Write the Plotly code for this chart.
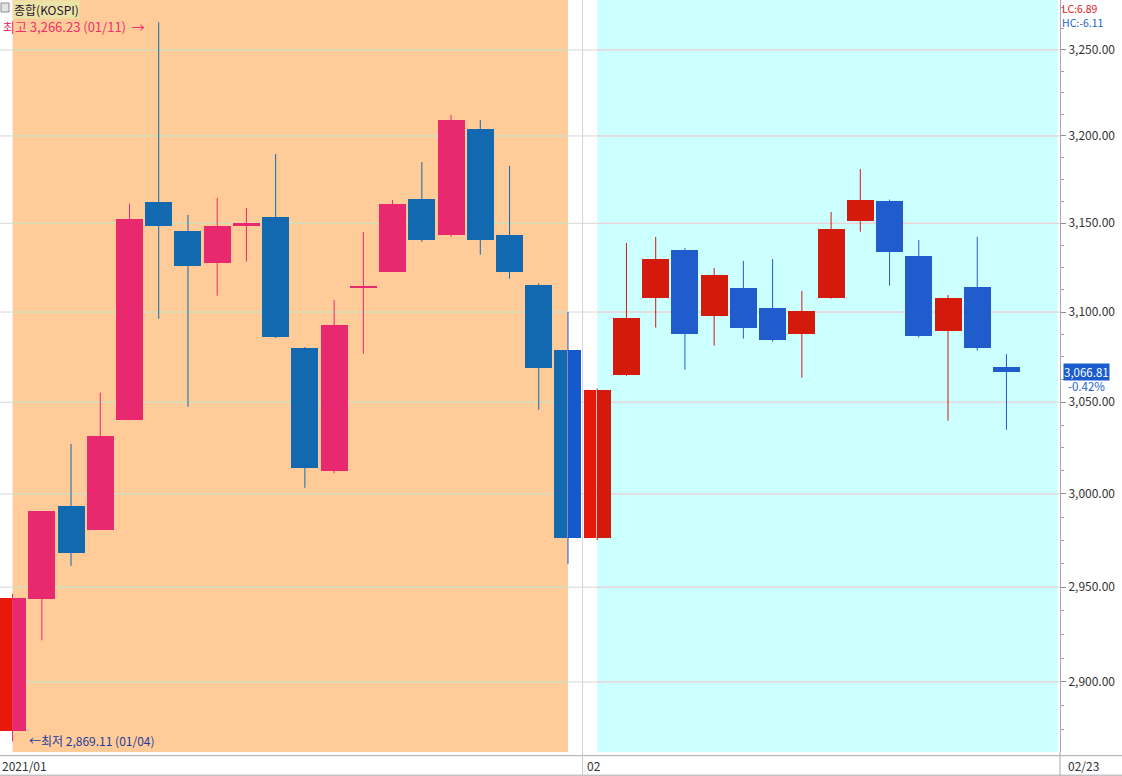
import math
import plotly.graph_objects as go

# ---------------- data ----------------
dates = ["01/04", "01/05", "01/06", "01/07", "01/08", "01/11", "01/12", "01/13", "01/14", "01/15",
         "01/18", "01/19", "01/20", "01/21", "01/22", "01/25", "01/26", "01/27", "01/28", "01/29",
         "02/01", "02/02", "02/03", "02/04", "02/05", "02/08", "02/09", "02/10", "02/15", "02/16",
         "02/17", "02/18", "02/19", "02/22", "02/23"]
open_ = [2874.50, 2943.67, 2993.34, 2980.75, 3040.11, 3161.90, 3145.79, 3127.70, 3148.40, 3153.60,
         3080.00, 3012.60, 3113.40, 3122.50, 3163.80, 3143.40, 3204.00, 3143.40, 3115.20, 3078.90,
         2976.50, 3065.20, 3108.00, 3134.90, 3098.00, 3113.50, 3102.30, 3087.90, 3108.00, 3151.30,
         3162.70, 3131.50, 3089.60, 3114.10, 3069.50]
high = [2946.54, 2990.57, 3027.16, 3055.28, 3161.11, 3266.23, 3154.79, 3164.40, 3158.70, 3189.60,
        3080.50, 3106.80, 3145.00, 3163.30, 3185.00, 3212.10, 3209.20, 3182.70, 3116.00, 3100.00,
        3057.50, 3138.90, 3142.30, 3135.90, 3124.70, 3128.70, 3129.80, 3111.80, 3156.40, 3181.00,
        3163.50, 3140.50, 3109.50, 3142.30, 3076.60]
low = [2869.11, 2921.84, 2961.37, 2980.75, 3040.11, 3096.19, 3047.56, 3109.10, 3128.30, 3085.50,
       3003.30, 3011.20, 3076.80, 3122.50, 3139.50, 3142.40, 3132.20, 3118.70, 3045.90, 2962.30,
       2975.00, 3064.50, 3091.30, 3068.00, 3081.30, 3085.20, 3083.50, 3063.50, 3107.50, 3145.20,
       3114.80, 3085.90, 3039.90, 3078.50, 3034.90]
close = [2944.45, 2990.57, 2968.21, 3031.68, 3152.18, 3148.45, 3125.95, 3148.29, 3149.93, 3085.90,
         3013.93, 3092.66, 3114.55, 3160.84, 3140.63, 3208.99, 3140.31, 3122.56, 3069.05, 2976.21,
         3056.53, 3096.81, 3129.68, 3087.55, 3120.63, 3091.24, 3084.67, 3100.58, 3147.00, 3163.25,
         3133.73, 3086.66, 3107.62, 3079.75, 3066.81]

y_ticks = [2900, 2950, 3000, 3050, 3100, 3150, 3200, 3250]
y_tick_text = ["2,900.00", "2,950.00", "3,000.00", "3,050.00", "3,100.00", "3,150.00", "3,200.00", "3,250.00"]
y_minor = [2875, 2887.5, 2912.5, 2925, 2937.5, 2962.5, 2975, 2987.5, 3012.5, 3025, 3037.5,
           3062.5, 3075, 3087.5, 3112.5, 3125, 3137.5, 3162.5, 3175, 3187.5, 3212.5, 3225,
           3237.5, 3262.5, 3275]
x_labels = ["2021/01", "02", "02/23"]

title_text = "종합(KOSPI)"
hi_label = "최고 3,266.23 (01/11)  →"
lo_label = "←최저 2,869.11 (01/04)"
lc_text = "LC:6.89"
hc_text = "HC:-6.11"
last_price = "3,066.81"
last_change = "-0.42%"

# ---------------- geometry / style ----------------
W, H = 1122, 776
PW, PH = 1060, 752          # plot area size (pixels)
XR = [-0.430, 35.831]
YR = [math.log10(2863.6), math.log10(3279.4)]
UNIT = PW / (XR[1] - XR[0])  # px per candle slot

def px2paper_x(p):
    return p / PW

def px2paper_y(p):
    return (PH - p) / PH

n = len(dates)
xs = list(range(n))
jan_idx = [i for i, d in enumerate(dates) if d.startswith("01/")]
feb_idx = [i for i, d in enumerate(dates) if d.startswith("02/")]
jan0, jan1 = jan_idx[0], jan_idx[-1]
feb0 = feb_idx[0]

palettes = {
    "white": {"up": "#E8190A", "down": "#1558C8", "grid": "#D6D6D6"},
    "jan": {"up": "#E8296F", "down": "#1269B0", "grid": "#CFE3B2"},
    "feb": {"up": "#D41A0A", "down": "#205CCC", "grid": "#F2D2D6"},
}
regions = [(-1e9, jan0, "white"), (jan0, jan1, "jan"), (jan1, feb0, "white"), (feb0, 1e9, "feb")]

hw = 13.5 / UNIT
gap = 1.0 / UNIT

bars = {}
wicks = {}
for i in xs:
    o, h, l, c = open_[i], high[i], low[i], close[i]
    d = "up" if c >= o else "down"
    b0, b1 = i - hw, i + hw
    for (a, b, r) in regions:
        s, e = max(b0, a), min(b1, b)
        if e - s <= 0:
            continue
        if e == b and b < 1e8:
            e -= gap
        col = palettes[r][d]
        g = bars.setdefault(col, {"x": [], "w": [], "base": [], "y": []})
        g["x"].append((s + e) / 2)
        g["w"].append(e - s)
        g["base"].append(min(o, c))
        g["y"].append(abs(c - o))
    for (a, b, r) in regions:
        if a <= i < b:
            col = palettes[r][d]
            wk = wicks.setdefault(col, {"x": [], "y": []})
            wk["x"] += [i, i, None]
            wk["y"] += [l, h, None]
            break

fig = go.Figure()

for col, wk in wicks.items():
    fig.add_trace(go.Scatter(x=wk["x"], y=wk["y"], mode="lines", line=dict(color=col, width=1),
                             hoverinfo="skip", showlegend=False))

for col, g in bars.items():
    fig.add_trace(go.Bar(x=g["x"], y=g["y"], base=g["base"], width=g["w"],
                         marker=dict(color=col, line=dict(width=0)), showlegend=False, hoverinfo="skip"))

cyan_end = XR[0] + (1057.7 / PW) * (XR[1] - XR[0])
shapes = [
    dict(type="rect", xref="x", yref="paper", x0=jan0, x1=jan1, y0=0, y1=1,
         fillcolor="#FFCC99", line=dict(width=0), layer="below"),
    dict(type="rect", xref="x", yref="paper", x0=feb0, x1=cyan_end, y0=0, y1=1,
         fillcolor="#CCFFFF", line=dict(width=0), layer="below"),
    dict(type="line", xref="x", yref="paper", x0=(jan1 + feb0) / 2, x1=(jan1 + feb0) / 2, y0=0, y1=1,
         line=dict(color="#D4D4D4", width=1), layer="below"),
]
# gridlines (below the candles)
grid_segments = [("white", XR[0], XR[1]), ("jan", jan0, jan1), ("feb", feb0, cyan_end)]
for r, a, b in grid_segments:
    for v in y_ticks:
        shapes.append(dict(type="line", xref="x", yref="y", x0=a, x1=b, y0=v, y1=v,
                           line=dict(color=palettes[r]["grid"], width=1), layer="below"))
shapes += [
    # x label band
    dict(type="line", xref="paper", yref="paper", x0=0, x1=W / PW, y0=px2paper_y(755.7), y1=px2paper_y(755.7),
         line=dict(color="#A8A8A8", width=1)),
    dict(type="line", xref="paper", yref="paper", x0=0, x1=W / PW, y0=px2paper_y(775.2), y1=px2paper_y(775.2),
         line=dict(color="#A8A8A8", width=1)),
    dict(type="line", xref="paper", yref="paper",
         x0=px2paper_x(12.57 + 19.5 * UNIT), x1=px2paper_x(12.57 + 19.5 * UNIT),
         y0=px2paper_y(752), y1=px2paper_y(776), line=dict(color="#C8C8C8", width=1)),
    dict(type="line", xref="paper", yref="paper", x0=1, x1=1, y0=px2paper_y(752), y1=px2paper_y(776),
         line=dict(color="#A8A8A8", width=1)),
    # checkbox
    dict(type="rect", xref="paper", yref="paper", x0=px2paper_x(1), x1=px2paper_x(9),
         y0=px2paper_y(12), y1=px2paper_y(3), fillcolor="#E4E4E4", line=dict(color="#8C8C8C", width=1)),
]

base_font = "Noto Sans CJK KR"
lchc = (f"<span style='color:#E02020'>{lc_text}</span><br>"
        f"<span style='color:#2060D0'>{hc_text}</span>")
annotations = [
    dict(text=title_text, xref="paper", yref="paper", x=px2paper_x(13), y=1, xanchor="left", yanchor="top",
         showarrow=False, bgcolor="#EAE5A6", borderpad=0, font=dict(family=base_font, size=12, color="#2A1030")),
    dict(text=hi_label, xref="x", yref="y", x=dates.index("01/11"), y=math.log10(max(high)),
         xanchor="right", yanchor="middle", xshift=-12, yshift=-4, showarrow=False,
         font=dict(family=base_font, size=13, color="#F0306A")),
    dict(text=lo_label, xref="x", yref="y", x=dates.index("01/04"), y=math.log10(min(low)),
         xanchor="left", yanchor="middle", xshift=14, yshift=1, showarrow=False,
         font=dict(family=base_font, size=12, color="#1E3C9C")),
    dict(text=lchc, xref="paper", yref="paper", x=px2paper_x(1061), y=1, xanchor="left", yanchor="top",
         align="left", showarrow=False, borderpad=0, yshift=0, font=dict(family=base_font, size=10.5)),
    dict(text=last_price, xref="paper", yref="y", x=px2paper_x(1063), y=math.log10(close[-1]),
         xanchor="left", yanchor="middle", showarrow=False, bgcolor="#1A5CCC", borderpad=0,
         font=dict(family=base_font, size=11.5, color="#FFFFFF")),
    dict(text=last_change, xref="paper", yref="y", x=px2paper_x(1067), y=math.log10(close[-1]),
         xanchor="left", yanchor="middle", yshift=-14, showarrow=False, borderpad=0,
         font=dict(family=base_font, size=11.5, color="#2060D0")),
]
label_px = [0, 12.57 + 19.5 * UNIT + 2, 1066]
for t, p in zip(x_labels, label_px):
    annotations.append(dict(text=t, xref="paper", yref="paper", x=px2paper_x(p), y=px2paper_y(765.5),
                            xanchor="left", yanchor="middle", showarrow=False,
                            font=dict(family=base_font, size=12, color="#333333")))

fig.update_layout(
    width=W, height=H,
    margin=dict(l=0, r=W - PW, t=0, b=H - PH, pad=0),
    paper_bgcolor="#FFFFFF", plot_bgcolor="#FFFFFF",
    barmode="overlay", bargap=0,
    showlegend=False,
    shapes=shapes, annotations=annotations,
    xaxis=dict(range=XR, showgrid=False, zeroline=False, showticklabels=False, ticks="", showline=False,
               fixedrange=True),
    yaxis=dict(type="log", range=YR, side="right", tickmode="array", tickvals=y_ticks, ticktext=y_tick_text,
               ticks="outside", ticklen=5, tickcolor="#909090", showline=True, linecolor="#A8A8A8",
               linewidth=1, showgrid=False, zeroline=False,
               tickfont=dict(family=base_font, size=12, color="#333333"),
               minor=dict(tickmode="array", tickvals=y_minor, ticks="outside", ticklen=3,
                          tickcolor="#A0A0A0", showgrid=False),
               fixedrange=True),
)

fig.write_html("out.html", config={"displayModeBar": False},
               post_script="document.body.style.margin='0';")
